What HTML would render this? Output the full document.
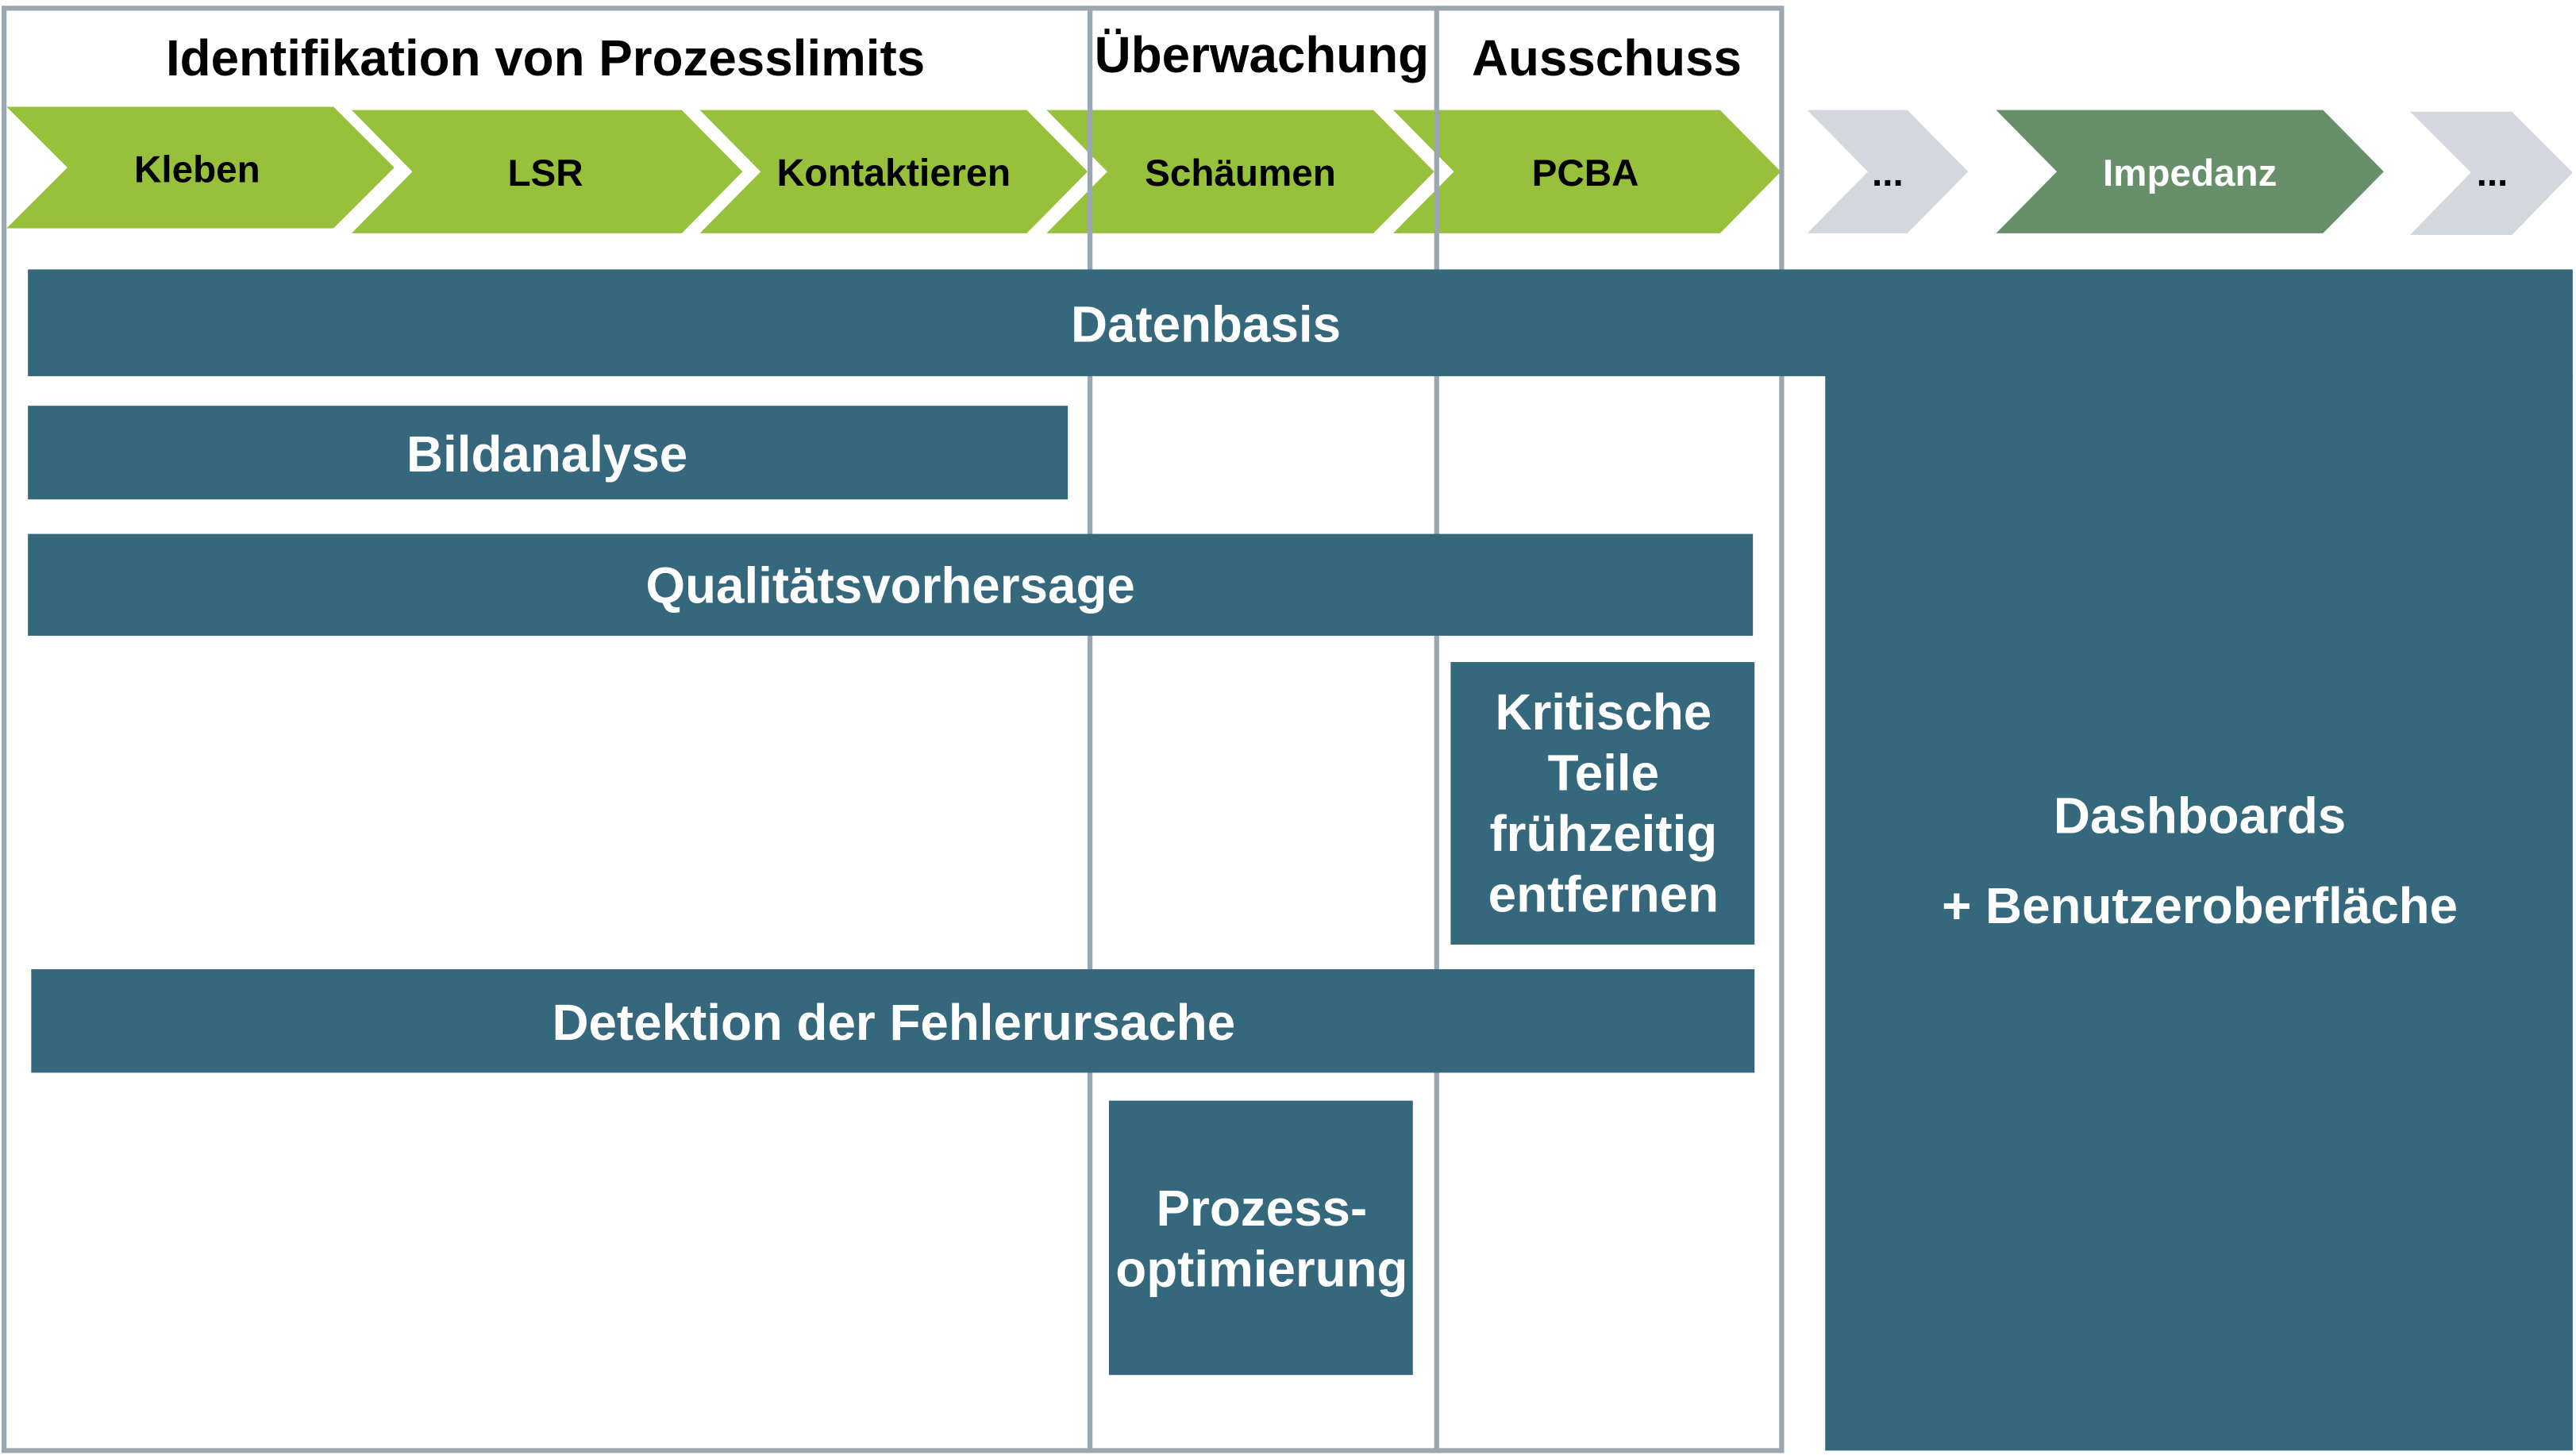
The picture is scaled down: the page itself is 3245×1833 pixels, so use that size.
<!DOCTYPE html>
<html><head><meta charset="utf-8"><style>
html,body{margin:0;padding:0;background:#fff;}
svg{display:block;}
text{font-family:"Liberation Sans",Arial,sans-serif;font-weight:bold;}
</style></head><body>
<svg width="3245" height="1833" viewBox="0 0 1568 885.7" preserveAspectRatio="none" xmlns="http://www.w3.org/2000/svg">
<rect width="1568" height="886" fill="#fff"/>
<g fill="#98c13b">
<polygon points="4,65 203,65 240,102 203,139 4,139 41,102"/>
<polygon points="214,67 415,67 452,104.5 415,142 214,142 251,104.5"/>
<polygon points="426,67 625,67 662,104.5 625,142 426,142 463,104.5"/>
<polygon points="637,67 836,67 873,104.5 836,142 637,142 674,104.5"/>
<polygon points="848,67 1047,67 1084,104.5 1047,142 848,142 885,104.5"/>
</g>
<polygon points="1100,67 1161,67 1198,104.5 1161,142 1100,142 1137,104.5" fill="#d2d8de"/>
<polygon points="1215,67 1414,67 1451,104.5 1414,142 1215,142 1252,104.5" fill="#668f6a"/>
<polygon points="1467,68 1529,68 1566,105 1529,143 1467,143 1504,105" fill="#d2d8de"/>
<g font-size="23" text-anchor="middle" fill="#000">
<text x="120" y="111">Kleben</text>
<text x="332" y="113">LSR</text>
<text x="544" y="113" font-size="23.3">Kontaktieren</text>
<text x="755" y="113">Schäumen</text>
<text x="965" y="113">PCBA</text>
<text x="1149" y="113">...</text>
<text x="1517" y="113">...</text>
<text x="1333" y="113" fill="#fff">Impedanz</text>
</g>
<g stroke="#9aa6b0" stroke-width="3" fill="none">
<rect x="2.5" y="5" width="1082" height="878"/>
<line x1="663.5" y1="5" x2="663.5" y2="883"/>
<line x1="874.5" y1="5" x2="874.5" y2="883"/>
</g>
<g font-size="30.8" text-anchor="middle" fill="#000">
<text x="332" y="46">Identifikation von Prozesslimits</text>
<text x="768" y="44">Überwachung</text>
<text x="978" y="46">Ausschuss</text>
</g>
<g fill="#35677d">
<rect x="17" y="164" width="1549" height="65"/>
<rect x="1111" y="228" width="455" height="655"/>
<rect x="17" y="247" width="633" height="57"/>
<rect x="17" y="325" width="1050" height="62"/>
<rect x="883" y="403" width="185" height="172"/>
<rect x="19" y="590" width="1049" height="63"/>
<rect x="675" y="670" width="185" height="167"/>
</g>
<g font-size="30.8" text-anchor="middle" fill="#fff">
<text x="734" y="208">Datenbasis</text>
<text x="333" y="287">Bildanalyse</text>
<text x="542" y="367">Qualitätsvorhersage</text>
<text x="544" y="633">Detektion der Fehlerursache</text>
<text x="976" y="444">Kritische</text>
<text x="976" y="481">Teile</text>
<text x="976" y="518">frühzeitig</text>
<text x="976" y="555">entfernen</text>
<text x="768" y="746">Prozess-</text>
<text x="768" y="783">optimierung</text>
<text x="1339" y="507">Dashboards</text>
<text x="1339" y="562">+ Benutzeroberfläche</text>
</g>
</svg>
</body></html>
